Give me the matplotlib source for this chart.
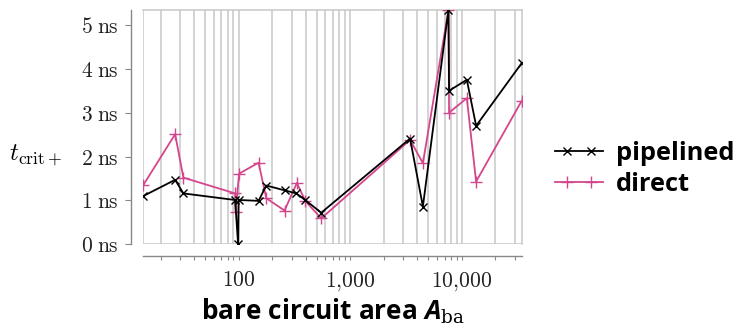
import matplotlib
matplotlib.use("Agg")
import matplotlib.pyplot as plt
from matplotlib.legend_handler import HandlerLine2DCompound
from matplotlib.lines import Line2D
from matplotlib.ticker import FixedLocator, FuncFormatter, LogLocator, NullFormatter

# ---- data ----
pipelined_x = [14, 27, 32, 93, 99, 100, 151, 177, 258, 329, 395, 550,
               3440, 4480, 7590, 7690, 11090, 13430, 34400]
pipelined_y = [1.10, 1.47, 1.16, 1.01, 0.0, 1.01, 0.99, 1.34, 1.23, 1.16, 1.01, 0.72,
               2.41, 0.86, 5.34, 3.50, 3.75, 2.70, 4.13]
direct_x = [14, 27, 32, 93, 94, 101, 151, 177, 258, 333, 395, 550,
            3440, 4480, 7590, 7690, 11090, 13430, 34400]
direct_y = [1.35, 2.51, 1.52, 1.16, 0.74, 1.61, 1.86, 1.05, 0.77, 1.40, 0.99, 0.59,
            2.38, 1.85, 5.34, 3.00, 3.33, 1.43, 3.27]
series_names = ["pipelined", "direct"]
y_ticks = [0, 1, 2, 3, 4, 5]
x_major = [100, 1000, 10000]
x_label = r'bare circuit area $A_{\mathrm{ba}}$'
y_label = r'$t_{\mathrm{crit}+}$'

SANS = 'Open Sans'
plt.rcParams['mathtext.fontset'] = 'cm'
plt.rcParams['mathtext.it'] = SANS + ':italic:bold'
plt.rcParams['mathtext.rm'] = 'DejaVu Serif'


class InsetMarkerHandler(HandlerLine2DCompound):
    """Line across the full handle, markers inset from its ends."""
    def get_xdata(self, legend, xdescent, ydescent, width, height, fontsize):
        xdata = [-xdescent, -xdescent + width]
        xmark = [-xdescent + 0.25 * width, -xdescent + 0.74 * width]
        return xdata, xmark


fig = plt.figure(figsize=(7.4, 3.26), dpi=100)
renderer = fig.canvas.get_renderer()


def fit_size(text, target_px, **kw):
    t = fig.text(0, 0, text, fontsize=10, **kw)
    w = t.get_window_extent(renderer).width
    t.remove()
    return 10 * target_px / w


L, R, T, B = 143.3, 521.7, 10.0, 244.3
ax = fig.add_axes([L / 740, 1 - B / 326, (R - L) / 740, (B - T) / 326])

pink = '#d4468c'
ax.plot(pipelined_x, pipelined_y, color='black', lw=1.3, marker='x', ms=5.5, mew=1.0,
        label=series_names[0], zorder=4)
ax.plot(direct_x, direct_y, color=pink, lw=1.3, marker='+', ms=8, mew=1.0,
        label=series_names[1], zorder=3)

ax.set_xscale('log')
xmin, xmax = min(pipelined_x + direct_x), max(pipelined_x + direct_x)
ymin, ymax = 0, max(pipelined_y + direct_y)
ax.set_xlim(xmin, xmax)
ax.set_ylim(ymin, ymax)

ax.xaxis.set_major_locator(FixedLocator(x_major))
ax.xaxis.set_minor_locator(LogLocator(base=10, subs=range(2, 10)))
ax.xaxis.set_minor_formatter(NullFormatter())
ax.xaxis.set_major_formatter(FuncFormatter(lambda v, p: r'${:,}$'.format(int(v)).replace(',', '{,}')))
ax.set_yticks(y_ticks)
ax.yaxis.set_major_formatter(FuncFormatter(lambda v, p: r'$%d\;\mathrm{ns}$' % v))

ax.grid(True, which='both', axis='x', color='#c8c8c8', lw=1.1, zorder=0)
ax.set_axisbelow(True)

for s in ['top', 'right']:
    ax.spines[s].set_color('#c8c8c8')
    ax.spines[s].set_linewidth(1.1)
for s in ['left', 'bottom']:
    ax.spines[s].set_position(('outward', 8.5))
    ax.spines[s].set_color('#888888')
    ax.spines[s].set_linewidth(1.0)
ax.axhline(ymin, color='#c8c8c8', lw=1.1, zorder=0)
ax.axvline(xmin, color='#c8c8c8', lw=1.1, zorder=0)

ax.tick_params(axis='both', which='both', color='#888888', width=0.8, labelcolor='#222222')
ax.tick_params(axis='y', which='major', length=4, pad=5, labelsize=15.5)
ax.tick_params(axis='x', which='major', length=3, pad=7, labelsize=15.5)
ax.tick_params(axis='x', which='minor', length=3)

fig.text(36 / 740, 1 - 155 / 326, y_label, fontsize=18,
         ha='center', va='center')

xl_size = fit_size(x_label, 266, fontweight='bold', family=SANS, math_fontfamily='custom')
fig.text(333 / 740, 1 - 319 / 326, x_label,
         fontsize=xl_size, fontweight='bold', family=SANS,
         ha='center', va='baseline', math_fontfamily='custom')

lg_size = fit_size(series_names[0], 119, fontweight='bold', family=SANS)
fpx = lg_size * 100 / 72
leg = fig.legend(loc='center left', bbox_to_anchor=(555 / 740, 1 - 169 / 326),
                 frameon=False, numpoints=2, handlelength=48 / fpx, handletextpad=13 / fpx,
                 labelspacing=0.25, borderpad=0, borderaxespad=0,
                 handler_map={Line2D: InsetMarkerHandler()},
                 prop={'family': SANS, 'weight': 'bold', 'size': lg_size})

fig.savefig('out.png', dpi=100)
